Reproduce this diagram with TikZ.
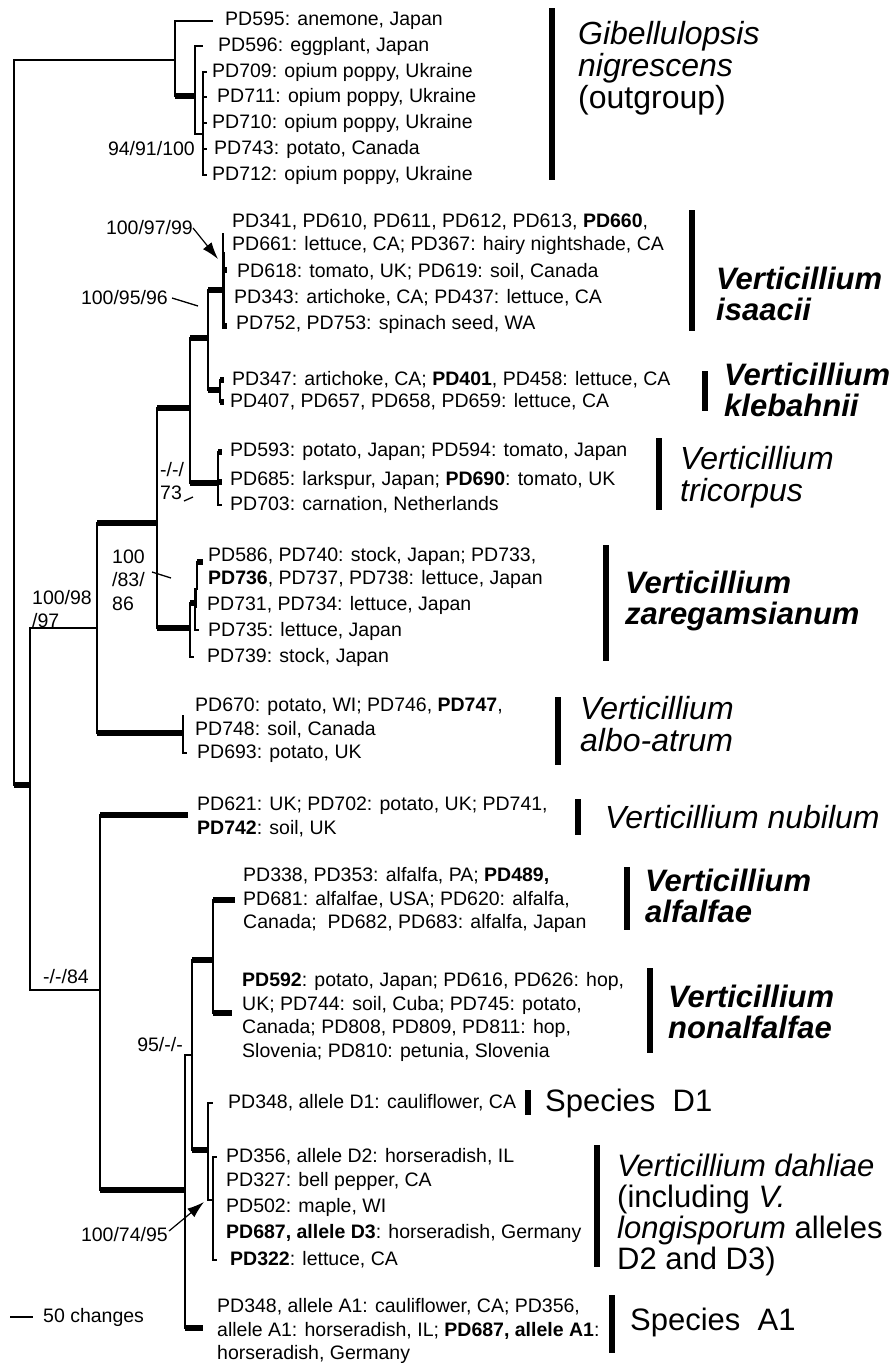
\documentclass[tikz,border=0pt]{standalone}
\usepackage{fontspec}
\setmainfont{Liberation Sans}
\usetikzlibrary{arrows.meta}

% one branch of the tree: vertical, then horizontal to the child
\newcommand\phybranch[3][br]{\draw[br] (#2) |- (#3); \draw[#1] (#2 |- #3) -- (#3);}

\begin{document}
\begin{tikzpicture}[x=1pt,y=-1pt,
  br/.style={line width=1.3pt},
  tk/.style={line width=6pt},
  md/.style={line width=3pt},
  bar/.style={line width=6pt},
  leaf/.style={anchor=west,align=left,inner sep=0pt,font=\fontsize{19.5}{23.5}\selectfont},
  boot/.style={align=left,inner sep=0pt,font=\fontsize{19.5}{23.5}\selectfont},
  clade/.style={anchor=west,align=left,inner sep=0pt,font=\fontsize{31}{31}\selectfont},
  cladeit/.style={clade,font=\fontsize{32}{32}\selectfont\itshape},
  pt/.style={-{Latex[length=17pt,width=11pt]},line width=1.2pt}]
\useasboundingbox (0,0) rectangle (890,1363);

% ---- tree coordinates
\coordinate (root) at (14,420);
\coordinate (og) at (175,60);
\coordinate (ogb) at (195,96);
\coordinate (ogc) at (203,134);
\coordinate (t595) at (213,21);
\coordinate (t596) at (203,46);
\foreach \n/\y in {709/72,711/97,710/123,743/149,712/175}
  {\coordinate (t\n) at (207,\y);}
\coordinate (ing) at (30,785);
\coordinate (c1) at (97,628);
\coordinate (c3) at (157,523);
\coordinate (c4) at (190,408);
\coordinate (c5) at (208,338);
\coordinate (isa) at (223,290);
\coordinate (t341) at (223,233);
\coordinate (t618) at (227,270);
\coordinate (t752) at (227,326);
\coordinate (kle) at (220,390);
\coordinate (t347) at (224,380);
\coordinate (t407) at (224,402);
\coordinate (tri) at (218,483);
\coordinate (t593) at (222,452);
\coordinate (t685) at (222,482);
\coordinate (t703) at (222,505);
\coordinate (zar) at (190,628);
\coordinate (z1) at (195,603);
\coordinate (z2) at (197,590);
\coordinate (t586) at (203,562);
\coordinate (t735) at (199,630);
\coordinate (t739) at (194,657);
\coordinate (albo) at (183,733);
\coordinate (ta1) at (183,715);
\coordinate (ta2) at (187,753);
\coordinate (c2) at (100,990);
\coordinate (nub) at (188,815);
\coordinate (c6) at (185,1190);
\coordinate (c7) at (192,1055);
\coordinate (tA1) at (203,1328);
\coordinate (c8) at (213,960);
\coordinate (alf) at (235,900);
\coordinate (nonalf) at (232,1013);
\coordinate (c9) at (208,1150);
\coordinate (tD1) at (213,1103);
\coordinate (dah) at (213,1200);
\coordinate (td2) at (217,1157);
\coordinate (td322) at (217,1260);

% ---- branches
\phybranch{root}{og}
\phybranch{og}{t595}
\phybranch[tk]{og}{ogb}
\phybranch{ogb}{t596}
\phybranch{ogb}{ogc}
\foreach \n in {709,711,710,743,712} {\phybranch{ogc}{t\n}}
\phybranch[tk]{root}{ing}
\phybranch{ing}{c1}
\phybranch{ing}{c2}
\phybranch[tk]{c1}{c3}
\phybranch[tk]{c1}{albo}
\phybranch{albo}{ta1}
\phybranch{albo}{ta2}
\phybranch[tk]{c3}{c4}
\phybranch[tk]{c3}{zar}
\phybranch[tk]{c4}{c5}
\phybranch[tk]{c4}{tri}
\phybranch[tk]{c5}{isa}
\phybranch[tk]{c5}{kle}
\phybranch{isa}{t341}
\phybranch[tk]{isa}{t618}
\phybranch[tk]{isa}{t752}
\draw[md] (223,252) -- (223,329);
\phybranch[tk]{kle}{t347}
\phybranch[tk]{kle}{t407}
\phybranch[tk]{tri}{t593}
\phybranch[tk]{tri}{t685}
\phybranch{tri}{t703}
\phybranch[tk]{zar}{z1}
\phybranch{zar}{t739}
\phybranch{z1}{t735}
\phybranch{z1}{z2}
\phybranch[tk]{z2}{t586}
\draw[md] (195,588) -- (195,608);
\phybranch[tk]{c2}{nub}
\phybranch[tk]{c2}{c6}
\phybranch{c6}{c7}
\phybranch[tk]{c6}{tA1}
\phybranch[tk]{c7}{c8}
\phybranch[tk]{c7}{c9}
\phybranch[tk]{c8}{alf}
\phybranch[tk]{c8}{nonalf}
\phybranch{c9}{tD1}
\phybranch{c9}{dah}
\phybranch{dah}{td2}
\phybranch{dah}{td322}

% ---- leaf labels
\node[leaf] (l595) at (225,21) {PD595: anemone, Japan};
\node[leaf] (l596) at (218,46) {PD596: eggplant, Japan};
\node[leaf] (l709) at (212,72) {PD709: opium poppy, Ukraine};
\node[leaf] (l711) at (217,97) {PD711: opium poppy, Ukraine};
\node[leaf] (l710) at (212,123) {PD710: opium poppy, Ukraine};
\node[leaf] (l743) at (214,149) {PD743: potato, Canada};
\node[leaf] (l712) at (212,175) {PD712: opium poppy, Ukraine};
\node[leaf] (l341) at (232,234) {PD341, PD610, PD611, PD612, PD613, \textbf{PD660},\\PD661: lettuce, CA; PD367: hairy nightshade, CA};
\node[leaf] (l618) at (237,272) {PD618: tomato, UK; PD619: soil, Canada};
\node[leaf] (l343) at (234,298) {PD343: artichoke, CA; PD437: lettuce, CA};
\node[leaf] (l752) at (236,324) {PD752, PD753: spinach seed, WA};
\node[leaf] (l347) at (232,380) {PD347: artichoke, CA; \textbf{PD401}, PD458: lettuce, CA};
\node[leaf] (l407) at (230,402) {PD407, PD657, PD658, PD659: lettuce, CA};
\node[leaf] (l593) at (230,452) {PD593: potato, Japan; PD594: tomato, Japan};
\node[leaf] (l685) at (230,480) {PD685: larkspur, Japan; \textbf{PD690}: tomato, UK};
\node[leaf] (l703) at (230,505) {PD703: carnation, Netherlands};
\node[leaf] (l586) at (208,568) {PD586, PD740: stock, Japan; PD733,\\\textbf{PD736}, PD737, PD738: lettuce, Japan};
\node[leaf] (l731) at (207,605) {PD731, PD734: lettuce, Japan};
\node[leaf] (l735) at (208,631) {PD735: lettuce, Japan};
\node[leaf] (l739) at (207,657) {PD739: stock, Japan};
\node[leaf] (l670) at (195,718) {PD670: potato, WI; PD746, \textbf{PD747},\\PD748: soil, Canada};
\node[leaf] (l693) at (197,754) {PD693: potato, UK};
\node[leaf] (l621) at (197,817) {PD621: UK; PD702: potato, UK; PD741,\\\textbf{PD742}: soil, UK};
\node[leaf] (l338) at (243,900) {PD338, PD353: alfalfa, PA; \textbf{PD489,}\\PD681: alfalfae, USA; PD620: alfalfa,\\Canada;\ \ PD682, PD683: alfalfa, Japan};
\node[leaf] (l592) at (242,1017) {\textbf{PD592}: potato, Japan; PD616, PD626: hop,\\UK; PD744: soil, Cuba; PD745: potato,\\Canada; PD808, PD809, PD811: hop,\\Slovenia; PD810: petunia, Slovenia};
\node[leaf] (lD1) at (228,1103) {PD348, allele D1: cauliflower, CA};
\node[leaf] (l356) at (226,1157) {PD356, allele D2: horseradish, IL};
\node[leaf] (l327) at (226,1181) {PD327: bell pepper, CA};
\node[leaf] (l502) at (226,1207) {PD502: maple, WI};
\node[leaf] (l687) at (226,1233) {\textbf{PD687, allele D3}: horseradish, Germany};
\node[leaf] (l322) at (230,1260) {\textbf{PD322}: lettuce, CA};
\node[leaf] (lA1) at (217,1331) {PD348, allele A1: cauliflower, CA; PD356,\\allele A1: horseradish, IL; \textbf{PD687, allele A1}:\\horseradish, Germany};

% ---- support values
\node[boot,anchor=east] (b1) at (195,149) {94/91/100};
\node[boot,anchor=east] (b2) at (193,228) {100/97/99};
\coordinate (b2t) at (218,259);
\draw[pt] (b2.east) -- (b2t);
\node[boot,anchor=east] (b3) at (168,298) {100/95/96};
\coordinate (b3t) at (198,306);
\draw[br] (b3.east) ++(4,0) -- (b3t);
\node[boot,anchor=west] (b4) at (160,481) {-/-/\\73};
\coordinate (b4t) at (193,497);
\draw[br] (184,501) -- (b4t);
\node[boot,anchor=west] (b5) at (112,580) {100\\/83/\\86};
\coordinate (b5t) at (171,578);
\draw[br] (152,572) -- (b5t);
\node[boot,anchor=west] (b6) at (32,609) {100/98\\/97};
\node[boot,anchor=west] (b7) at (43,977) {-/-/84};
\node[boot,anchor=east] (b8) at (183,1045) {95/-/-};
\node[boot,anchor=east] (b9) at (168,1235) {100/74/95};
\coordinate (b9t) at (204,1202);
\draw[pt] (b9.east) ++(1,-4) -- (b9t);

% ---- scale bar
\coordinate (s0) at (10,1317);
\coordinate (s1) at (33,1317);
\draw[br] (s0) -- (s1);
\node[boot,anchor=west] (sc) at (43,1317) {50 changes};

% ---- clade bars and names
\draw[bar] (552,8) -- (552,180);
\node[cladeit] (nog) at (578,68) {Gibellulopsis\\nigrescens\\\upshape(outgroup)};
\draw[bar] (692,210) -- (692,331);
\node[clade] (nisa) at (716,294) {\bfseries\itshape Verticillium\\\bfseries\itshape isaacii};
\draw[bar] (705,371) -- (705,411);
\node[clade] (nkle) at (724,390) {\bfseries\itshape Verticillium\\\bfseries\itshape klebahnii};
\draw[bar] (659,438) -- (659,510);
\node[cladeit] (ntri) at (680,477) {Verticillium\\tricorpus};
\draw[bar] (606,545) -- (606,661);
\node[clade] (nzar) at (625,601) {\bfseries\itshape Verticillium\\\bfseries\itshape zaregamsianum};
\draw[bar] (558,697) -- (558,765);
\node[cladeit] (nalb) at (580,724) {Verticillium\\albo-atrum};
\draw[bar] (578,799) -- (578,835);
\node[cladeit] (nnub) at (605,817) {Verticillium nubilum};
\draw[bar] (627,867) -- (627,930);
\node[clade] (nalf) at (645,896) {\bfseries\itshape Verticillium\\\bfseries\itshape alfalfae};
\draw[bar] (650,968) -- (650,1053);
\node[clade] (nnon) at (668,1012) {\bfseries\itshape Verticillium\\\bfseries\itshape nonalfalfae};
\draw[bar] (528,1090) -- (528,1115);
\node[clade] (nD1) at (545,1103) {Species\ \ D1};
\draw[bar] (597,1145) -- (597,1267);
\node[clade] (ndah) at (617,1215) {\textit{Verticillium dahliae}\\(including \textit{V.}\\\textit{longisporum} alleles\\D2 and D3)};
\draw[bar] (612,1295) -- (612,1353);
\node[clade] (nA1) at (630,1322) {Species\ \ A1};
\end{tikzpicture}
\end{document}
